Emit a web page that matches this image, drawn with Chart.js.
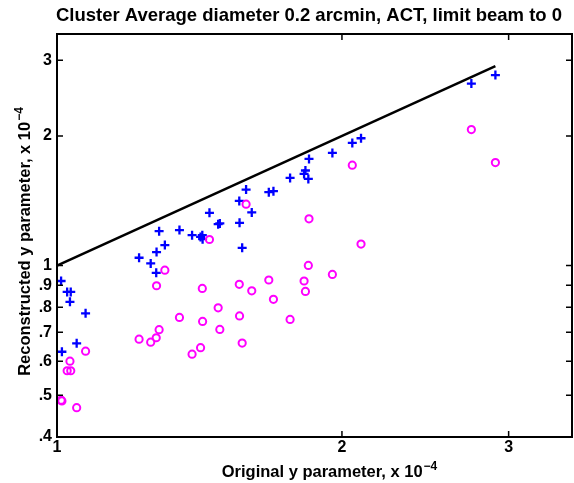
<!DOCTYPE html>
<html><head><meta charset="utf-8">
<script src="https://cdn.jsdelivr.net/npm/chart.js@4.4.0/dist/chart.umd.min.js"></script>
<style>html,body{margin:0;padding:0;background:#fff;}#wrap{width:574px;height:483px;}</style>
</head><body><div id="wrap"><canvas id="c" width="574" height="483"></canvas></div>
<script>
const originalY = [1.010,1.012,1.025,1.034,1.032,1.049,1.072,1.221,1.256,1.273,1.274,1.282,1.300,1.347,1.389,1.418,1.424,1.425,1.449,1.480,1.486,1.558,1.559,1.569,1.584,1.606,1.674,1.693,1.763,1.824,1.830,1.843,1.846,1.954,2.051,2.095,2.740,2.905];
const reconPlus = [0.921,0.631,0.869,0.869,0.824,0.660,0.775,1.043,1.012,0.962,1.075,1.202,1.116,1.209,1.177,1.166,1.177,1.152,1.326,1.248,1.253,1.413,1.257,1.100,1.502,1.329,1.481,1.489,1.598,1.633,1.663,1.590,1.769,1.827,1.927,1.976,2.647,2.770];
const reconCircle = [0.487,0.485,0.570,0.570,0.600,0.468,0.633,0.675,0.664,0.680,0.898,0.710,0.976,0.758,0.623,0.645,0.885,0.742,1.150,0.798,0.711,0.905,0.764,0.661,1.389,0.874,0.926,0.835,0.750,0.921,0.871,1.001,1.284,0.954,1.711,1.122,2.070,1.735];
const lineX = [1, 2.905];
const lineY = [1, 2.905];
const xTicks = [1, 2, 3];
const xTickLabels = ['1', '2', '3'];
const yTicks = [0.4, 0.5, 0.6, 0.7, 0.8, 0.9, 1, 2, 3];
const yTickLabels = ['.4', '.5', '.6', '.7', '.8', '.9', '1', '2', '3'];
const titleText = 'Cluster Average diameter 0.2 arcmin, ACT, limit beam to 0';
const xTitle = 'Original y parameter, x 10';
const yTitle = 'Reconstructed y parameter, x 10';
const expText = '\u22124';

const FAM = '"Liberation Sans", Arial, Helvetica, sans-serif';

function drawSup(ctx, base, sup, cx, cy, size) {
  ctx.font = 'bold ' + size + 'px ' + FAM;
  const wb = ctx.measureText(base).width;
  const ss = Math.round(size * 0.72);
  ctx.font = 'bold ' + ss + 'px ' + FAM;
  const ws = ctx.measureText(sup).width;
  const start = cx - (wb + ws) / 2;
  ctx.textAlign = 'left';
  ctx.textBaseline = 'alphabetic';
  ctx.font = 'bold ' + size + 'px ' + FAM;
  ctx.fillText(base, start, cy);
  ctx.font = 'bold ' + ss + 'px ' + FAM;
  ctx.fillText(sup, start + wb + 1, cy - size * 0.45);
}

const frame = {
  id: 'frame',
  afterDraw(chart) {
    const { ctx, chartArea: a, scales } = chart;
    const xs = scales.x, ys = scales.y;
    ctx.save();
    ctx.strokeStyle = '#000';
    ctx.lineWidth = 2;
    ctx.strokeRect(a.left, a.top, a.right - a.left, a.bottom - a.top);
    ctx.lineWidth = 1.5;
    const L = 6;
    ctx.beginPath();
    xTicks.forEach(v => {
      const p = xs.getPixelForValue(v);
      ctx.moveTo(p, a.bottom); ctx.lineTo(p, a.bottom - L);
      ctx.moveTo(p, a.top); ctx.lineTo(p, a.top + L);
    });
    yTicks.forEach(v => {
      const p = ys.getPixelForValue(v);
      ctx.moveTo(a.left, p); ctx.lineTo(a.left + L, p);
      ctx.moveTo(a.right, p); ctx.lineTo(a.right - L, p);
    });
    ctx.stroke();
    ctx.fillStyle = '#000';
    ctx.font = 'bold 18.5px ' + FAM;
    ctx.textAlign = 'center';
    ctx.textBaseline = 'alphabetic';
    ctx.fillText(titleText, 309, 21);
    drawSup(ctx, xTitle, expText, 329, 477, 16.5);
    ctx.save();
    ctx.translate(30, 242);
    ctx.rotate(-Math.PI / 2);
    drawSup(ctx, yTitle, expText, 0, 0, 16.5);
    ctx.restore();
    ctx.restore();
  }
};

const tickFont = { family: FAM, size: 16, weight: 'bold' };

new Chart(document.getElementById('c'), {
  type: 'scatter',
  data: {
    datasets: [
      {
        label: 'y = x',
        type: 'line',
        data: lineX.map((x, i) => ({ x: x, y: lineY[i] })),
        borderColor: '#000000',
        borderWidth: 2.5,
        pointRadius: 0,
        fill: false,
        order: 3
      },
      {
        label: 'reconstructed (+)',
        data: originalY.map((x, i) => ({ x: x, y: reconPlus[i] })),
        pointStyle: 'cross',
        pointRadius: 4.5,
        borderColor: '#0000ff',
        backgroundColor: '#0000ff',
        borderWidth: 2.3,
        order: 2
      },
      {
        label: 'reconstructed (o)',
        data: originalY.map((x, i) => ({ x: x, y: reconCircle[i] })),
        pointStyle: 'circle',
        pointRadius: 3.6,
        borderColor: '#ff00ff',
        backgroundColor: 'rgba(0,0,0,0)',
        borderWidth: 2,
        order: 1
      }
    ]
  },
  options: {
    responsive: false,
    animation: false,
    devicePixelRatio: 1,
    layout: { autoPadding: false, padding: { top: 34, right: 2, left: 0, bottom: 0 } },
    plugins: { legend: { display: false }, title: { display: false }, tooltip: { enabled: false } },
    scales: {
      x: {
        type: 'logarithmic',
        min: 1, max: 3.5,
        afterBuildTicks: s => { s.ticks = xTicks.map(v => ({ value: v })); },
        afterFit: s => { s.height = 46; },
        ticks: {
          callback: (v, i) => xTickLabels[i],
          font: tickFont, color: '#000', padding: 1,
          maxRotation: 0, autoSkip: false
        },
        grid: { display: false, drawTicks: false },
        border: { display: false }
      },
      y: {
        type: 'logarithmic',
        min: 0.4, max: 3.45,
        afterBuildTicks: s => { s.ticks = yTicks.map(v => ({ value: v })); },
        afterFit: s => { s.width = 57; },
        ticks: {
          callback: (v, i) => yTickLabels[i],
          font: tickFont, color: '#000', padding: 5, autoSkip: false
        },
        grid: { display: false, drawTicks: false },
        border: { display: false }
      }
    }
  },
  plugins: [frame]
});
</script>
</body></html>
